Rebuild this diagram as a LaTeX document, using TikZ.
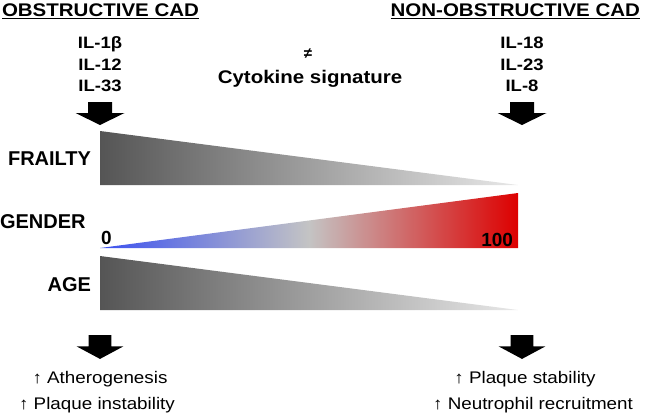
\documentclass[tikz,border=0pt]{standalone}
\usepackage{fontspec}
\setmainfont{Liberation Sans}
\newfontfamily\widefont[FakeStretch=1.12]{Liberation Sans}
\definecolor{gdark}{HTML}{555555}
\definecolor{glight}{HTML}{E8E8E8}
\definecolor{gblue}{HTML}{3A50F0}
\definecolor{gmid}{HTML}{C4C4C4}
\definecolor{gred}{HTML}{DD0000}
\tikzset{
  txt/.style={inner sep=0pt, outer sep=0pt, text=black},
  titletxt/.style={txt, anchor=base, font=\widefont\bfseries\fontsize{18.3}{22}\selectfont},
  iltxt/.style={txt, anchor=base, font=\widefont\bfseries\fontsize{16.5}{20}\selectfont},
  labtxt/.style={txt, anchor=base, font=\bfseries\fontsize{20}{24}\selectfont},
  numtxt/.style={txt, anchor=base, font=\bfseries\fontsize{19}{22}\selectfont},
  outtxt/.style={txt, anchor=base, font=\widefont\fontsize{16.8}{20}\selectfont},
  uline/.style={line width=1.4pt, black},
  pics/blockarrow/.style={code={
    \fill[black] (-12,0) -- (12,0) -- (12,11) -- (24.5,11) -- (0,23) -- (-24.5,11) -- (-12,11) -- cycle;
  }}
}
\begin{document}
\begin{tikzpicture}[x=1pt,y=-1pt]
\useasboundingbox (0,0) rectangle (645,416);
% titles
\node[titletxt, anchor=base west] (tl) at (2,16) {OBSTRUCTIVE CAD};
\node[titletxt, anchor=base east] (tr) at (640,16) {NON-OBSTRUCTIVE CAD};
\draw[uline] ([yshift=-2.2pt]tl.base west) -- ([yshift=-2.2pt]tl.base east);
\draw[uline] ([yshift=-2.2pt]tr.base west) -- ([yshift=-2.2pt]tr.base east);
% cytokines
\node[iltxt] (l1) at (100,48) {IL-1β};
\node[iltxt] (l2) at (100,70) {IL-12};
\node[iltxt] (l3) at (100,91) {IL-33};
\node[iltxt] (r1) at (522,48) {IL-18};
\node[iltxt] (r2) at (522,70) {IL-23};
\node[iltxt] (r3) at (522,91) {IL-8};
\node[txt, anchor=base, font=\bfseries\fontsize{15}{18}\selectfont] (neq) at (308,58) {≠};
\node[titletxt] (cs) at (310,83) {Cytokine signature};
% arrows
\pic at (100,102) {blockarrow};
\pic at (522,102) {blockarrow};
\pic[yscale=1.04, xscale=0.95] at (100,335) {blockarrow};
\pic[yscale=1.04, xscale=0.95] at (522,335) {blockarrow};
% wedges
\shade[left color=gdark, right color=glight] (100,131) -- (518,185) -- (100,185) -- cycle;
\shade[left color=gblue, right color=gred, middle color=gmid] (100,248) -- (518,193) -- (518,248) -- cycle;
\shade[left color=gdark, right color=glight] (100,256) -- (518,310) -- (100,310) -- cycle;
% labels
\node[labtxt, anchor=base east] (fr) at (91,165) {FRAILTY};
\node[labtxt, anchor=base west] (ge) at (0,228) {GENDER};
\node[labtxt, anchor=base east] (ag) at (91,291) {AGE};
\node[numtxt, anchor=base west] (n0) at (101,244) {0};
\node[numtxt, anchor=base east] (n100) at (513,246) {100};
% outcomes
\node[outtxt] (o1) at (100,383) {↑ Atherogenesis};
\node[outtxt] (o2) at (97,409) {↑ Plaque instability};
\node[outtxt] (o3) at (525,383) {↑ Plaque stability};
\node[outtxt] (o4) at (533,409) {↑ Neutrophil recruitment};
\end{tikzpicture}
\end{document}
